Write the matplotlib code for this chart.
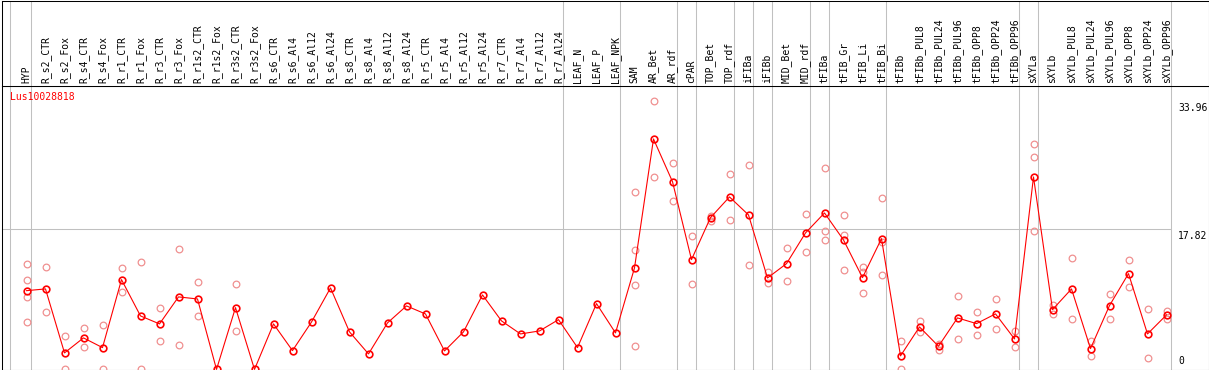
import matplotlib
matplotlib.use("Agg")
import matplotlib.pyplot as plt
import matplotlib.transforms as mtrans

# ── Data ──────────────────────────────────────────────────────
categories = [
    "HYP", "R_s2_CTR", "R_s2_Fox", "R_s4_CTR", "R_s4_Fox", "R_r1_CTR", "R_r1_Fox",
    "R_r3_CTR", "R_r3_Fox", "R_r1s2_CTR", "R_r1s2_Fox", "R_r3s2_CTR", "R_r3s2_Fox",
    "R_s6_CTR", "R_s6_Al4", "R_s6_Al12", "R_s6_Al24", "R_s8_CTR", "R_s8_Al4",
    "R_s8_Al12", "R_s8_Al24", "R_r5_CTR", "R_r5_Al4", "R_r5_Al12", "R_r5_Al24",
    "R_r7_CTR", "R_r7_Al4", "R_r7_Al12", "R_r7_Al24", "LEAF_N", "LEAF_P", "LEAF_NPK",
    "SAM", "AR_Bet", "AR_rdf", "cPAR", "TOP_Bet", "TOP_rdf", "iFIBa", "iFIBb",
    "MID_Bet", "MID_rdf", "tFIBa", "tFIB_Gr", "tFIB_Li", "tFIB_Bi", "tFIBb",
    "tFIBb_PUL8", "tFIBb_PUL24", "tFIBb_PUL96", "tFIBb_OPP8", "tFIBb_OPP24", "tFIBb_OPP96",
    "sXYLa", "sXYLb", "sXYLb_PUL8", "sXYLb_PUL24", "sXYLb_PUL96", "sXYLb_OPP8",
    "sXYLb_OPP24", "sXYLb_OPP96",
]

means = [
    9.97, 10.19, 2.09, 3.99, 2.76, 11.37, 6.77, 5.76, 9.18, 8.92, 0.0, 7.82, 0.0,
    5.76, 2.38, 6.00, 10.32, 4.75, 1.96, 5.89, 8.04, 7.02, 2.34, 4.75, 9.43,
    6.14, 4.49, 4.87, 6.30, 2.76, 8.33, 4.62,
    12.85, 29.18, 23.77, 13.90, 19.22, 21.84, 19.56, 11.58, 13.39, 17.28,
    19.81, 16.39, 11.62, 16.56, 1.71,
    5.38, 2.93, 6.52, 5.80, 7.03, 3.86,
    24.37, 7.57, 10.19, 2.63, 8.08, 12.13, 4.49, 6.90,
]

replicates = [
    [13.35, 11.37, 9.13, 6.05], [12.97, 7.32], [4.28, 0.0], [5.29, 2.85],
    [5.63, 0.0], [12.85, 9.81], [13.61, 0.0], [7.82, 3.61], [15.25, 3.10],
    [11.08, 6.77], [], [10.82, 4.87], [],
    [], [], [], [], [], [], [], [], [], [], [], [], [], [], [], [], [], [], [],
    [22.50, 15.16, 10.73, 2.97], [33.96, 24.40], [26.18, 21.37], [16.94, 10.86],
    [19.47, 18.84], [24.75, 18.92], [25.92, 13.27], [12.38, 10.95],
    [15.42, 11.24], [19.68, 14.87], [25.51, 17.53, 16.43],
    [19.56, 17.06, 12.59], [13.01, 12.29, 9.72], [21.75, 16.18, 12.00],
    [3.65, 0.0],
    [6.09, 4.70], [3.27, 2.47], [9.34, 3.86], [7.32, 4.37], [8.92, 5.16], [4.91, 2.85],
    [28.54, 26.90, 17.53], [8.16, 7.03], [14.15, 6.43], [3.61, 1.75],
    [9.59, 6.43], [13.90, 10.44], [7.66, 1.49], [7.44, 6.34],
]

group_sizes = [1, 28, 3, 3, 1, 2, 1, 1, 2, 1, 3, 7, 1, 7]
y_ticks = [0, 17.82, 33.96]
gene = "Lus10028818"

# ── Layout (pixel based) ──────────────────────────────────────
W, H = 1209, 370
RED = "#ff0000"
PINK = "#f09090"
GRID = "#c0c0c0"
MONO = "DejaVu Sans Mono"


def frac(x0, y0, x1, y1):
    return [x0 / W, 1 - y1 / H, (x1 - x0) / W, (y1 - y0) / H]


fig = plt.figure(figsize=(W / 100, H / 100), dpi=100)
fig.patch.set_facecolor("white")
ax = fig.add_axes(frac(1.5, 85.5, 1208.5, 369.5))
hax = fig.add_axes(frac(1.5, 0.5, 1208.5, 85.5), sharex=ax)

step = 19.0
ax.set_xlim((1.5 - 26.5) / step, (1208.5 - 26.5) / step)
ax.set_ylim(-0.013, 35.95)
hax.set_ylim(0, 1)

for a in (ax, hax):
    a.set_xticks([])
    a.set_yticks([])
    for s in a.spines.values():
        s.set_linewidth(0.75)
        s.set_color("black")

# group separators
bounds = [-1]
for g in group_sizes:
    bounds.append(bounds[-1] + g)
for i, b in enumerate(bounds):
    xb = b + 0.23 if i > 0 else -0.85
    for a in (ax, hax):
        a.axvline(xb, color=GRID, lw=0.75, zorder=1)

# horizontal reference line
ax.hlines(y_ticks[1], ax.get_xlim()[0], bounds[-1] + 0.23, color=GRID, lw=0.75, zorder=1)

# replicates
for i, reps in enumerate(replicates):
    if reps:
        ax.plot([i] * len(reps), reps, ls="none", marker="o", ms=4.8,
                mfc="none", mec=PINK, mew=0.9, zorder=2, clip_on=False)

# mean line
xs = list(range(len(categories)))
ax.plot(xs, means, color=RED, lw=0.8, marker="o", ms=4.8, mfc="none",
        mec=RED, mew=1.2, zorder=3, clip_on=False)

# header labels
for i, c in enumerate(categories):
    hax.text(i, 0.028, c, rotation=90, ha="center", va="bottom",
             family=MONO, fontsize=7, color="black")

# gene label
fig.text(10 / W, 1 - 97 / H, gene, ha="left", va="center",
         family=MONO, fontsize=7, color=RED)

# value labels on the right
tr = mtrans.blended_transform_factory(ax.transAxes, ax.transData)
xl = (1178 - 1.5) / 1207
for v in y_ticks:
    if v == 0:
        ax.annotate("0", (xl, v), xycoords=tr, xytext=(0, 3), textcoords="offset pixels",
                    ha="left", va="bottom", family=MONO, fontsize=7)
    else:
        ax.annotate(f"{v:.2f}", (xl, v), xycoords=tr, xytext=(0, -2),
                    textcoords="offset pixels", ha="left", va="top",
                    family=MONO, fontsize=7)

fig.savefig("out.png", dpi=100)
